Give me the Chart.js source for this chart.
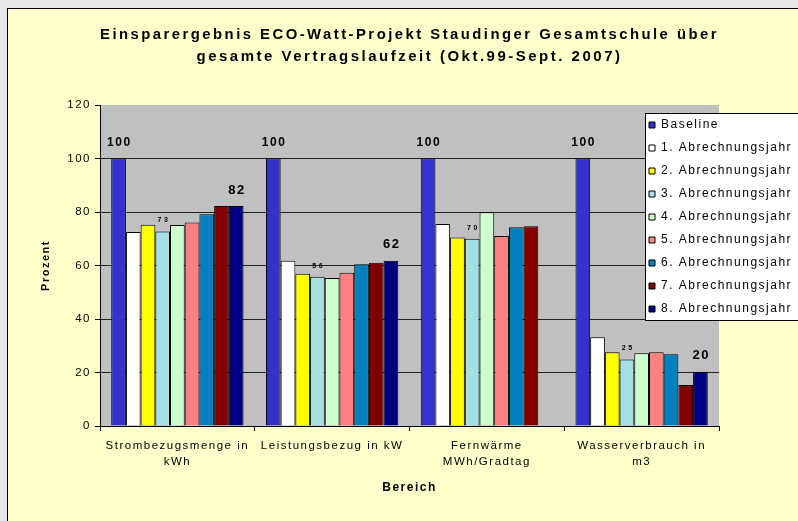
<!DOCTYPE html>
<html>
<head>
<meta charset="utf-8">
<script src="https://cdn.jsdelivr.net/npm/chart.js@4.4.1/dist/chart.umd.min.js"></script>
<style>
  body { margin: 0; background: #e8e8e8; }
  #box { position: absolute; left: 7px; top: 8px; width: 790px; height: 512px;
         border-left: 1px solid #000; border-top: 1px solid #000; background: #ffffcc; }
  canvas { display: block; }
</style>
</head>
<body>
<div id="box"><canvas id="einsparung" width="790" height="512"></canvas></div>
<script>
const bereiche = [["Strombezugsmenge in", "kWh"], "Leistungsbezug in kW", ["Fernwärme", "MWh/Gradtag"], ["Wasserverbrauch in", "m3"]];
const serien = ["Baseline", "1. Abrechnungsjahr", "2. Abrechnungsjahr", "3. Abrechnungsjahr", "4. Abrechnungsjahr",
  "5. Abrechnungsjahr", "6. Abrechnungsjahr", "7. Abrechnungsjahr", "8. Abrechnungsjahr"];
const baseline = [100, 100, 100, 100];
const jahr1 = [72.5, 61.8, 75.5, 33.2];
const jahr2 = [75.2, 56.9, 70.5, 27.6];
const jahr3 = [72.7, 55.8, 70.0, 24.9];
const jahr4 = [75.1, 55.3, 79.9, 27.2];
const jahr5 = [76.1, 57.3, 71.0, 27.6];
const jahr6 = [79.2, 60.5, 74.3, 26.8];
const jahr7 = [82.2, 61.0, 74.7, 15.3];
const jahr8 = [82.2, 61.8, null, 20.3];
const yTicks = [0, 20, 40, 60, 80, 100, 120];

const farben = ["#3333cc", "#ffffff", "#ffff00", "#a6e0e0", "#ccffcc", "#ff8080", "#0080c0", "#800000", "#000080"];
const werte = [baseline, jahr1, jahr2, jahr3, jahr4, jahr5, jahr6, jahr7, jahr8];

const ctx = document.getElementById("einsparung").getContext("2d");

// Excel-Look: etwas gesperrte Schrift
const sperren = {
  id: "sperren",
  beforeUpdate(chart) { chart.ctx.letterSpacing = "1.5px"; },
  beforeLayout(chart) { chart.ctx.letterSpacing = "1.5px"; },
  beforeDraw(chart) {
    const c = chart.ctx, a = chart.chartArea;
    c.letterSpacing = "1.5px";
    c.save();
    c.fillStyle = "#c0c0c0";
    c.fillRect(a.left, a.top, a.right - a.left, a.bottom - a.top);
    c.restore();
  }
};

// Legende in den Plotbereich schieben (mit Rahmen), Titel breiter sperren
const legendeBox = {
  id: "legendeBox",
  afterLayout(chart) {
    const lg = chart.legend;
    lg.left = 630; lg.top = 99; lg.right = 790; lg.bottom = 330;
    lg.width = 160; lg.height = 231;
    if (!lg._mitRahmen) {
      const orig = lg.draw;
      lg.draw = function () {
        const c = this.ctx;
        c.save();
        c.fillStyle = "#fff";
        c.fillRect(637.5, 104.5, 160, 207);
        c.strokeStyle = "#000";
        c.lineWidth = 1;
        c.strokeRect(637.5, 104.5, 160, 207);
        c.restore();
        orig.call(this);
      };
      lg._mitRahmen = true;
    }
    const t = chart.titleBlock;
    if (t && !t._gesperrt) {
      const tdraw = t.draw;
      t.draw = function () {
        this.ctx.save();
        this.ctx.letterSpacing = "2.5px";
        tdraw.call(this);
        this.ctx.restore();
      };
      t._gesperrt = true;
    }
  }
};

const beschriftung = [
  { ds: 0, size: 12, gap: 16, space: 1.5 },
  { ds: 3, size: 7, gap: 11, space: 2.5 },
  { ds: 8, size: 13, gap: 16, space: 1.5 }
];
const werteLabels = {
  id: "werteLabels",
  afterDatasetsDraw(chart) {
    const c = chart.ctx;
    beschriftung.forEach(function (b) {
      const meta = chart.getDatasetMeta(b.ds);
      meta.data.forEach(function (bar, i) {
        const v = chart.data.datasets[b.ds].data[i];
        if (v == null) return;
        c.save();
        c.letterSpacing = b.space + "px";
        c.font = "bold " + b.size + "px 'Liberation Sans', Arial, sans-serif";
        c.fillStyle = "#000";
        c.textAlign = "center";
        c.textBaseline = "middle";
        c.fillText(String(Math.round(v)), bar.x + b.space / 2, bar.y - b.gap);
        c.restore();
      });
    });
  }
};

new Chart(ctx, {
  type: "bar",
  data: {
    labels: bereiche,
    datasets: serien.map(function (name, i) {
      return {
        label: name,
        data: werte[i],
        backgroundColor: farben[i],
        borderColor: "#000",
        borderWidth: 1,
        categoryPercentage: 0.855,
        barPercentage: 1
      };
    })
  },
  options: {
    responsive: false,
    animation: false,
    devicePixelRatio: 1,
    layout: { padding: { left: 0, right: 79, top: 0, bottom: 0 } },
    plugins: {
      title: {
        display: true,
        fullSize: false,
        text: ["Einsparergebnis ECO-Watt-Projekt Staudinger Gesamtschule über", "gesamte Vertragslaufzeit (Okt.99-Sept. 2007)"],
        color: "#000",
        font: { family: "'Liberation Sans', Arial, sans-serif", size: 15, weight: "bold", lineHeight: 22 / 15 },
        padding: { top: 15, bottom: 37 }
      },
      legend: {
        position: "chartArea",
        align: "start",
        labels: {
          color: "#000",
          boxWidth: 6,
          boxHeight: 6,
          padding: 11,
          font: { family: "'Liberation Sans', Arial, sans-serif", size: 12 }
        }
      },
      tooltip: { enabled: false }
    },
    scales: {
      x: {
        afterFit(s) { s.height = 95; },
        grid: { offset: true, drawOnChartArea: false, drawTicks: true, tickLength: 5, tickColor: "#000" },
        border: { color: "#000" },
        ticks: {
          color: "#000",
          autoSkip: false,
          maxRotation: 0,
          padding: 7,
          font: { family: "'Liberation Sans', Arial, sans-serif", size: 11.5, lineHeight: 16 / 11.5 }
        },
        title: {
          display: true,
          text: "Bereich",
          color: "#000",
          font: { family: "'Liberation Sans', Arial, sans-serif", size: 12, weight: "bold" },
          padding: { top: 0, bottom: 26 }
        }
      },
      y: {
        min: 0,
        max: 120,
        afterFit(s) { s.width = 92; },
        afterBuildTicks(s) { s.ticks = yTicks.map(function (v) { return { value: v }; }); },
        grid: {
          color: function (c) { return c.tick && c.tick.value === 120 ? "rgba(0,0,0,0)" : "#222"; },
          tickColor: "#000",
          tickLength: 5
        },
        border: { color: "#000" },
        ticks: {
          color: "#000",
          padding: 4,
          font: { family: "'Liberation Sans', Arial, sans-serif", size: 11.5 }
        },
        title: {
          display: true,
          text: "Prozent",
          color: "#000",
          font: { family: "'Liberation Sans', Arial, sans-serif", size: 11, weight: "bold" },
          padding: { top: 31, bottom: 0 }
        }
      }
    }
  },
  plugins: [sperren, legendeBox, werteLabels]
});
</script>
</body>
</html>
